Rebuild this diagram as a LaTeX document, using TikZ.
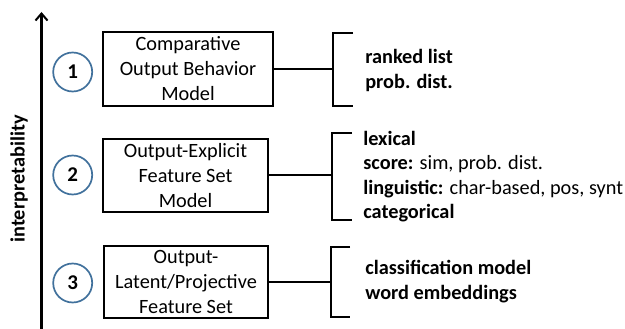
\documentclass[tikz,border=0pt]{standalone}
\usepackage{fontspec}
\setmainfont{Carlito}
\usetikzlibrary{arrows.meta}
\begin{document}
\begin{tikzpicture}[x=1pt,y=-1pt,
  line width=2pt,
  num/.style={circle,draw=numblue,line width=1.7pt,minimum size=39pt,inner sep=0pt,font=\fontsize{21}{21}\selectfont\bfseries},
  modelbox/.style={draw,line width=2pt,inner sep=0pt,align=center,font=\fontsize{20.3}{25}\selectfont},
  items/.style={anchor=west,align=left,font=\fontsize{20.3}{24.5}\selectfont},
  bracket/.style={line width=2pt}]
\definecolor{numblue}{HTML}{41719C}
\useasboundingbox (0,0) rectangle (625,329);
% interpretability axis
\coordinate (axb) at (41.5,329);
\coordinate (axt) at (41.5,12);
\draw[line width=2.2pt,-{Straight Barb[length=7pt,width=12pt,line width=2pt]}] (axb) -- (axt);
\node[rotate=90,font=\fontsize{20.3}{20}\selectfont\bfseries] (axl) at (19,179) {interpretability};
% numbered levels
\node[num] (n1) at (72.7,72) {1};
\node[num] (n2) at (72.7,175) {2};
\node[num] (n3) at (72.7,283) {3};
% model boxes
\node[modelbox,minimum width=170pt,minimum height=74pt] (b1) at (188,69) {Comparative\\Output Behavior\\Model};
\node[modelbox,minimum width=165pt,minimum height=73pt] (b2) at (185.5,175.5) {Output-Explicit\\Feature Set\\Model};
\node[modelbox,minimum width=164pt,minimum height=72pt] (b3) at (186,282) {Output-\\Latent/Projective\\Feature Set};
% brackets
\coordinate (k1t) at (353,33);
\coordinate (k1b) at (353,106);
\coordinate (k2t) at (352,133);
\coordinate (k2b) at (352,220);
\coordinate (k3t) at (350,247);
\coordinate (k3b) at (350,317);
\draw[bracket] (k1t) -| (333,106) -- (k1b);
\draw[bracket] (k2t) -| (332,220) -- (k2b);
\draw[bracket] (k3t) -| (331,317) -- (k3b);
\draw (b1.east) -- (333,69);
\draw (b2.east) -- (332,175.5);
\draw (b3.east) -- (331,282);
% item lists
\node[items] (l1) at (361,70.5) {\textbf{ranked list}\\\textbf{prob. dist.}};
\node[items] (l2) at (359,176.5) {\textbf{lexical}\\\textbf{score:} sim, prob. dist.\\\textbf{linguistic:} char-based, pos, synt\\\textbf{categorical}};
\node[items] (l3) at (361,281.5) {\textbf{classification model}\\\textbf{word embeddings}};
\end{tikzpicture}
\end{document}
